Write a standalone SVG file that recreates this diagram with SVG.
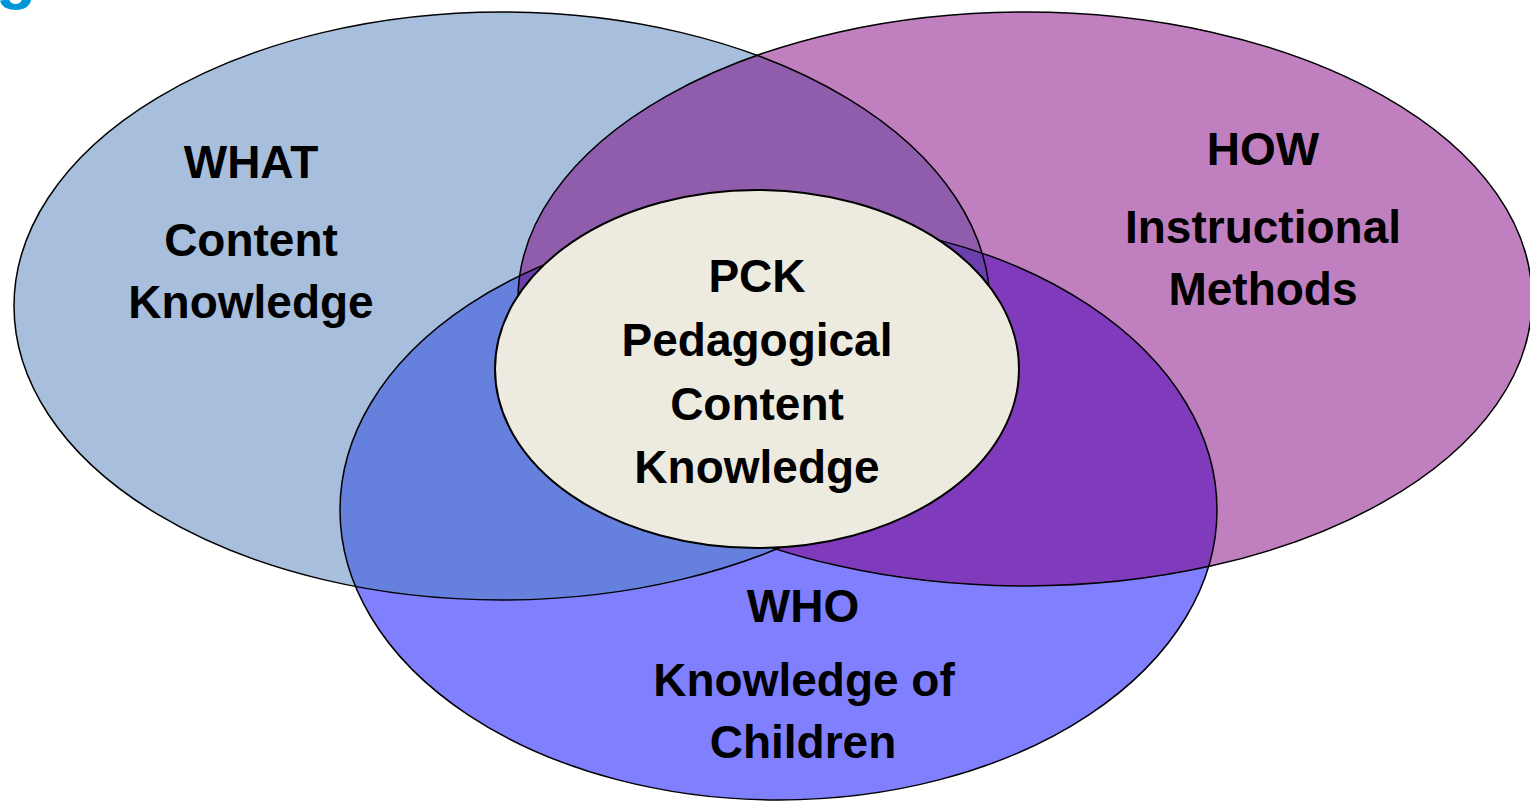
<svg xmlns="http://www.w3.org/2000/svg" width="1530" height="802" viewBox="0 0 1530 802">
<style>
.lbl{font-family:"Liberation Sans",Arial,sans-serif;font-weight:bold;font-size:46px;fill:#000;text-anchor:middle}
.edge{fill:none;stroke:#000;stroke-width:1.5}
</style>
<defs>
<clipPath id="cA"><ellipse cx="502" cy="306" rx="488" ry="294"/></clipPath>
<clipPath id="cB"><ellipse cx="1025" cy="299" rx="507" ry="287"/></clipPath>
<clipPath id="cW"><ellipse cx="778.5" cy="510" rx="438.5" ry="290"/></clipPath>
</defs>
<rect width="1530" height="802" fill="#fff"/>
<text x="-4" y="-4" font-family="Liberation Sans,Arial,sans-serif" font-weight="bold" font-size="66" fill="#0096D6">g</text>
<g id="what">
<ellipse cx="502" cy="306" rx="488" ry="294" fill="#A7BEDC"/>
</g>
<g id="how">
<ellipse cx="1025" cy="299" rx="507" ry="287" fill="#C080BF"/>
</g>
<g id="who">
<ellipse cx="778.5" cy="510" rx="438.5" ry="290" fill="#8080FF"/>
</g>
<g id="overlaps">
<ellipse cx="1025" cy="299" rx="507" ry="287" fill="#8F5DAB" clip-path="url(#cA)"/>
<ellipse cx="778.5" cy="510" rx="438.5" ry="290" fill="#6680DD" clip-path="url(#cA)"/>
<ellipse cx="778.5" cy="510" rx="438.5" ry="290" fill="#803BBD" clip-path="url(#cB)"/>
<g clip-path="url(#cA)"><ellipse cx="778.5" cy="510" rx="438.5" ry="290" fill="#6B40AE" clip-path="url(#cB)"/></g>
</g>
<g id="outlines">
<ellipse class="edge" cx="502" cy="306" rx="488" ry="294"/>
<ellipse class="edge" cx="1025" cy="299" rx="507" ry="287"/>
<ellipse class="edge" cx="778.5" cy="510" rx="438.5" ry="290"/>
</g>
<g id="pck">
<ellipse cx="757" cy="369" rx="262" ry="179" fill="#EDEBE0" stroke="#000" stroke-width="2"/>
<text class="lbl" x="757" y="292">PCK</text>
<text class="lbl" x="757" y="356">Pedagogical</text>
<text class="lbl" x="757" y="420">Content</text>
<text class="lbl" x="757" y="483">Knowledge</text>
</g>
<g id="what-label">
<text class="lbl" x="251" y="178">WHAT</text>
<text class="lbl" x="251" y="256">Content</text>
<text class="lbl" x="251" y="318">Knowledge</text>
</g>
<g id="how-label">
<text class="lbl" x="1263" y="165">HOW</text>
<text class="lbl" x="1263" y="243">Instructional</text>
<text class="lbl" x="1263" y="305">Methods</text>
</g>
<g id="who-label">
<text class="lbl" x="803" y="622">WHO</text>
<text class="lbl" x="804" y="696">Knowledge of</text>
<text class="lbl" x="803" y="758">Children</text>
</g>
<g id="connectors"/>
</svg>
